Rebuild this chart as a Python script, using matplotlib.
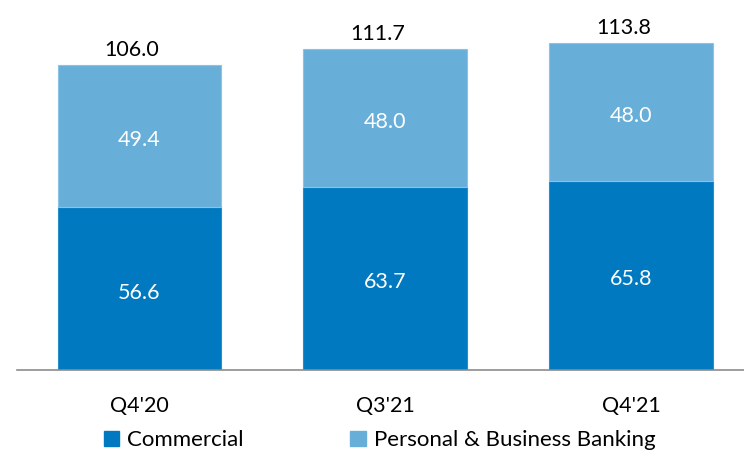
import numpy as np
import matplotlib.pyplot as plt
from matplotlib.patches import Patch

quarters = ["Q4'20", "Q3'21", "Q4'21"]
commercial = [56.6, 63.7, 65.8]
personal = [49.4, 48.0, 48.0]
totals = [106.0, 111.7, 113.8]

dark_blue = "#0079c1"
light_blue = "#67aed9"

plt.rcParams['font.family'] = ['Lato', 'DejaVu Sans']

fig = plt.figure(figsize=(7.44, 4.54), dpi=100)
ax = fig.add_axes([0.0228, 0.185, 0.9772, 0.815])

x = np.arange(len(quarters))
w = 0.667
ax.bar(x, commercial, w, color=dark_blue, edgecolor="#2a8dcb", linewidth=0.8)
ax.bar(x, personal, w, bottom=commercial, color=light_blue, edgecolor="#8cc3e4", linewidth=0.8)

# segment values sit a touch below the middle of each block
for i in range(len(x)):
    ax.text(x[i], commercial[i] / 2 - 1.4, f"{commercial[i]:.1f}", ha="center", va="center",
            color="white", fontsize=15.5)
    ax.text(x[i], commercial[i] + personal[i] / 2 - 1.4, f"{personal[i]:.1f}", ha="center",
            va="center", color="white", fontsize=15.5)
    ax.text(x[i] - 0.03, totals[i] + 1.6, f"{totals[i]:.1f}", ha="center", va="bottom",
            color="black", fontsize=15.5)

ax.set_xlim(-0.4985, 2.46)
ax.set_ylim(0, 128.6)
ax.set_xticks(x)
ax.set_xticklabels(quarters, fontsize=15.5)
ax.tick_params(axis="x", length=0, pad=19)
ax.set_yticks([])
for side in ["top", "right", "left"]:
    ax.spines[side].set_visible(False)
ax.spines["bottom"].set_color("#8c8c8c")
ax.spines["bottom"].set_linewidth(1.2)

handles = [Patch(color=dark_blue, label="Commercial"),
           Patch(color=light_blue, label="Personal & Business Banking")]
fig.legend(handles=handles, loc="center", bbox_to_anchor=(0.51, 0.03), ncol=2,
           frameon=False, fontsize=16, handlelength=0.7, handleheight=0.7,
           handletextpad=0.35, columnspacing=4.8)

fig.savefig("out.png")
